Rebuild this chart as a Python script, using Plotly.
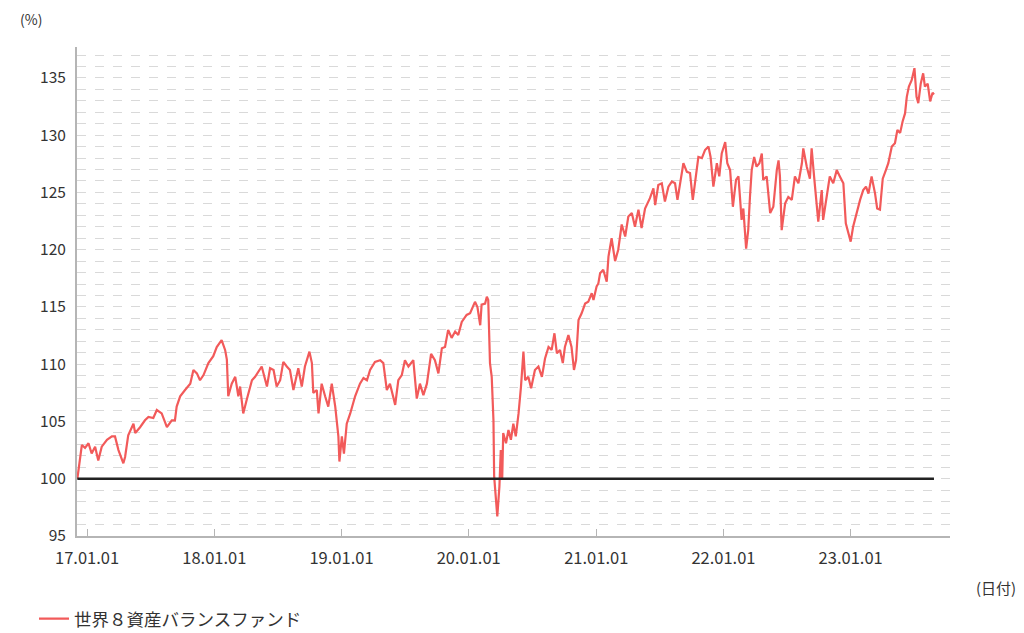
import pandas as pd
import plotly.graph_objects as go

# ---- data ----
reference_date = "2017-01-01"
day_offsets = [
    -28, -15, -6, 4, 13, 23, 32, 42, 57, 71, 80, 90, 104, 109, 118, 133, 138, 152, 166, 176,
    190, 200, 214, 229, 243, 252, 257, 267, 281, 296, 305, 315, 324, 334, 348, 362, 372, 386,
    396, 401, 405, 415, 425, 434, 439, 448, 458, 473, 482, 501, 516, 525, 535, 544, 554, 563,
    573, 582, 592, 606, 616, 625, 638, 645, 649, 659, 664, 673, 683, 692, 702, 712, 721, 724,
    731, 737, 745, 755, 769, 783, 793, 803, 812, 826, 841, 850, 860, 869, 884, 893, 903, 912,
    922, 936, 946, 955, 965, 975, 987, 998, 1008, 1018, 1027, 1036, 1046, 1056, 1065, 1075,
    1089, 1099, 1113, 1120, 1128, 1132, 1142, 1147, 1151, 1156, 1161, 1166, 1168, 1171, 1177,
    1183, 1187, 1191, 1194, 1202, 1209, 1216, 1223, 1230, 1238, 1245, 1252, 1257, 1266, 1274,
    1285, 1295, 1305, 1314, 1324, 1333, 1341, 1348, 1357, 1365, 1371, 1381, 1390, 1397, 1403,
    1410, 1419, 1429, 1438, 1448, 1453, 1462, 1467, 1472, 1481, 1491, 1496, 1505, 1515, 1524,
    1534, 1544, 1553, 1563, 1572, 1582, 1591, 1601, 1615, 1625, 1630, 1639, 1649, 1658, 1668,
    1678, 1687, 1694, 1701, 1711, 1721, 1730, 1738, 1744, 1754, 1764, 1773, 1783, 1789, 1797,
    1807, 1814, 1821, 1831, 1837, 1845, 1853, 1862, 1869, 1878, 1883, 1891, 1897, 1902, 1907,
    1914, 1921, 1929, 1936, 1940, 1950, 1960, 1969, 1979, 1984, 1988, 1993, 2003, 2012, 2022,
    2031, 2041, 2051, 2055, 2065, 2074, 2079, 2086, 2093, 2098, 2108, 2112, 2122, 2131, 2141,
    2151, 2160, 2170, 2177, 2184, 2191, 2198, 2208, 2218, 2227, 2235, 2242, 2251, 2261, 2267,
    2275, 2283, 2292, 2299, 2309, 2318, 2325, 2333, 2340, 2347, 2352, 2358, 2366, 2374, 2380,
    2385, 2392, 2399, 2404, 2412, 2419, 2426, 2430,
]
fund_values = [
    100.0, 102.95, 102.7, 103.1, 102.2, 102.8, 101.6, 102.8, 103.4, 103.7, 103.7, 102.5, 101.35, 101.9, 103.8, 104.8, 104.0, 104.5, 105.1, 105.4,
    105.3, 106.0, 105.7, 104.5, 105.1, 105.1, 106.3, 107.2, 107.75, 108.3, 109.5, 109.2, 108.6, 109.05, 110.1, 110.7, 111.5, 112.1,
    111.25, 110.4, 107.2, 108.3, 108.9, 107.2, 108.05, 105.7, 106.9, 108.6, 108.9, 109.8, 108.05, 109.65, 109.5, 108.05, 108.6, 110.2,
    109.8, 109.5, 107.75, 109.65, 108.05, 109.8, 111.1, 110.1, 107.5, 107.75, 105.7, 108.3, 107.2, 106.3, 108.3, 106.3, 103.7, 101.5,
    103.7, 102.2, 104.8, 105.7, 107.2, 108.3, 108.8, 108.6, 109.5, 110.2, 110.35, 110.1, 107.75, 108.3, 106.45, 108.6, 109.05, 110.35,
    109.8, 110.35, 107.0, 108.3, 107.3, 108.3, 110.9, 110.35, 109.2, 111.4, 111.5, 113.0, 112.3, 112.85, 112.55, 113.7,
    114.3, 114.45, 115.45, 115.0, 113.4, 115.2, 115.3, 115.9, 115.6, 110.1, 108.9, 105.1, 100.2, 99.0, 96.7,
    99.3, 102.5, 99.9, 104.0, 103.1, 104.25, 103.4, 104.8, 103.7, 105.7, 108.05, 111.1, 108.6, 108.9, 107.9,
    109.5, 109.8, 108.9, 110.5, 111.5, 111.25, 112.7, 110.95, 111.25, 110.1, 111.5, 112.55, 111.5, 109.5, 110.35,
    113.85, 114.45, 115.3, 115.45, 116.2, 115.6, 116.8, 117.05, 117.95, 118.25, 117.2, 119.4, 121.0, 119.0, 120.0,
    122.2, 121.15, 122.9, 123.2, 122.0, 123.5, 121.9, 123.6, 124.5, 125.35, 123.9, 125.65, 125.8, 124.2, 125.5,
    125.95, 125.8, 124.35, 125.8, 127.55, 126.8, 126.7, 124.35, 125.8, 128.1, 128.0, 128.7, 129.0, 128.1, 125.5,
    127.55, 126.4, 128.4, 129.4, 127.55, 126.95, 123.75, 126.1, 126.4, 122.6, 123.6, 120.1, 121.7, 124.6, 126.95,
    128.1, 127.25, 127.55, 128.4, 126.1, 126.4, 123.2, 123.75, 126.95, 127.8, 126.4, 121.7, 124.05, 124.6, 124.35,
    126.4, 125.8, 127.55, 128.85, 127.25, 126.2, 128.85, 126.4, 124.35, 122.45, 125.2, 122.6, 124.6, 126.4, 125.8,
    126.95, 126.4, 125.8, 122.3, 121.45, 120.7, 122.0, 123.2, 124.35, 125.2, 125.5, 124.9, 126.4, 124.9, 123.6,
    123.5, 126.2, 126.95, 127.55, 129.0, 129.3, 130.45, 130.2, 131.2, 131.9, 133.35, 134.25, 134.8, 135.85, 133.35,
    132.8, 134.5, 135.4, 134.25, 134.5, 132.95, 133.7, 133.55,
]
series_name = "世界８資産バランスファンド"
baseline_value = 100
year_ticks = ["2017-01-01", "2018-01-01", "2019-01-01", "2020-01-01",
              "2021-01-01", "2022-01-01", "2023-01-01"]
y_ticks = [95, 100, 105, 110, 115, 120, 125, 130, 135]
x_range = ["2016-12-03", "2023-10-13"]
y_range = [95, 137.7]

dates = pd.Timestamp(reference_date) + pd.to_timedelta(day_offsets, unit="D")

font_family = "Noto Sans CJK JP, Noto Sans, sans-serif"
grid_color = "#d9d9d9"
axis_color = "#b5b5b5"
text_color = "#333333"

fig = go.Figure()
fig.add_trace(go.Scatter(
    x=dates, y=fund_values, mode="lines", name=series_name,
    line=dict(color="#F25A5A", width=2.2),
))
fig.add_trace(go.Scatter(
    x=[dates[0], dates[-1]], y=[baseline_value, baseline_value], mode="lines",
    line=dict(color="#222222", width=2.5), showlegend=False, hoverinfo="skip",
))

fig.update_layout(
    width=1024, height=633,
    margin=dict(l=69, r=82, t=39, b=105),
    paper_bgcolor="white", plot_bgcolor="white",
    font=dict(family=font_family, color=text_color, size=14),
    showlegend=True,
    legend=dict(orientation="h", xref="container", yref="container",
                x=0.0254, xanchor="left", y=0.035, yanchor="middle",
                font=dict(size=17.5, color=text_color), bgcolor="rgba(0,0,0,0)"),
    annotations=[
        dict(text="(%)", xref="paper", yref="paper", x=-0.068, y=1.058,
             xanchor="left", yanchor="middle", showarrow=False,
             font=dict(size=14, color=text_color)),
        dict(text="(日付)", xref="paper", yref="paper", x=1.028, y=-0.106,
             xanchor="left", yanchor="middle", showarrow=False,
             font=dict(size=15, color=text_color)),
    ],
)

fig.update_xaxes(
    type="date", range=x_range,
    tickvals=year_ticks, tickformat="%y.%m.%d",
    ticks="inside", ticklen=7, tickcolor=axis_color, tickwidth=1,
    showgrid=False, zeroline=False,
    showline=True, linecolor=axis_color, linewidth=2,
    tickfont=dict(size=16.5, color=text_color),
    ticklabelstandoff=6,
)
fig.update_yaxes(
    range=y_range, tickvals=y_ticks,
    showgrid=True, gridcolor=grid_color, griddash="dash", gridwidth=1,
    minor=dict(dtick=1, tick0=95, showgrid=True, gridcolor=grid_color,
               griddash="dash", gridwidth=1, ticks=""),
    ticks="", zeroline=False,
    showline=True, linecolor=axis_color, linewidth=2,
    tickfont=dict(size=15.5, color=text_color),
    ticklabelstandoff=6,
)

fig.write_html("out.html")
